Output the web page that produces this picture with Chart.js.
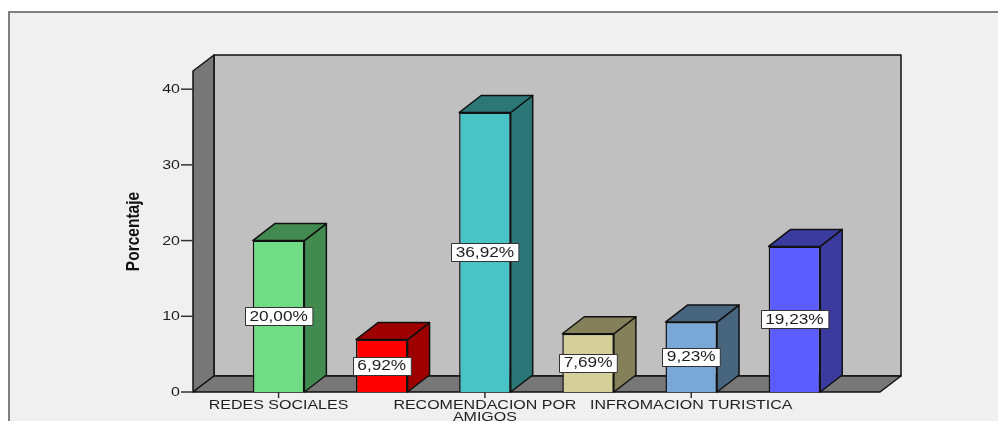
<!DOCTYPE html>
<html>
<head>
<meta charset="utf-8">
<script src="https://cdn.jsdelivr.net/npm/chart.js@4/dist/chart.umd.min.js"></script>
<style>
  html, body { margin: 0; padding: 0; background: #fff; }
  canvas { display: block; }
</style>
</head>
<body>
<canvas id="grafico" width="998" height="421"></canvas>
<script>
// categorías (las que no llevan rótulo quedan vacías en el eje)
const categorias = [['REDES SOCIALES'], [], ['RECOMENDACION POR', 'AMIGOS'], [], ['INFROMACION TURISTICA'], []];
const porcentajes = [20.00, 6.92, 36.92, 7.69, 9.23, 19.23];
const marcasY = [0, 10, 20, 30, 40];
const coloresFrente = ['#70dc86', '#ff0000', '#48c3c6', '#d5d09a', '#7aa8d6', '#5c5cff'];
const coloresLado = ['#428b50', '#9e0000', '#2b7677', '#848059', '#48657f', '#3a3a9f'];

const FUENTE = '"Liberation Sans", Arial, sans-serif';
const ESTIRA = 1.23;           // el texto del gráfico va algo ensanchado
const PARED = { dx: 21, dy: -16 };
const BARRA = { dx: 22, dy: -17 };
const MARGEN = 34;             // espacio entre la primera/última barra y las paredes

function texto(ctx, str, x, y, align, font, sx) {
    ctx.save();
    ctx.translate(x, y);
    ctx.scale(sx || ESTIRA, 1);
    ctx.font = font;
    ctx.textAlign = align;
    ctx.textBaseline = 'middle';
    ctx.fillStyle = '#1e1e1e';
    ctx.fillText(str, 0, 0);
    ctx.restore();
}

function poligono(ctx, pts, fill) {
    ctx.beginPath();
    ctx.moveTo(pts[0][0], pts[0][1]);
    for (let i = 1; i < pts.length; i++) ctx.lineTo(pts[i][0], pts[i][1]);
    ctx.closePath();
    ctx.fillStyle = fill;
    ctx.fill();
    ctx.stroke();
}

const caja3d = {
    id: 'caja3d',
    beforeDraw(chart) {
        const ctx = chart.ctx;
        ctx.save();
        ctx.fillStyle = '#ffffff';
        ctx.fillRect(0, 0, chart.width, chart.height);
        ctx.fillStyle = '#f0f0f0';
        ctx.fillRect(9, 13, chart.width, chart.height);
        ctx.strokeStyle = '#808080';
        ctx.lineWidth = 2;
        ctx.beginPath();
        ctx.moveTo(9, chart.height + 5);
        ctx.lineTo(9, 12);
        ctx.lineTo(chart.width + 5, 12);
        ctx.stroke();
        ctx.restore();
    },
    beforeDatasetsDraw(chart) {
        const ctx = chart.ctx;
        const ys = chart.scales.y, xs = chart.scales.x;
        const L = chart.chartArea.left - MARGEN, R = chart.chartArea.right + MARGEN;
        const T = ys.getPixelForValue(ys.max), B = ys.getPixelForValue(0);
        const { dx, dy } = PARED;
        ctx.save();
        ctx.strokeStyle = '#111';
        ctx.lineWidth = 1.5;
        ctx.lineJoin = 'round';
        // pared del fondo, pared izquierda y suelo
        poligono(ctx, [[L + dx, T + dy], [R + dx, T + dy], [R + dx, B + dy], [L + dx, B + dy]], '#c0c0c0');
        poligono(ctx, [[L, T], [L + dx, T + dy], [L + dx, B + dy], [L, B]], '#777777');
        poligono(ctx, [[L, B], [L + dx, B + dy], [R + dx, B + dy], [R, B]], '#777777');

        // eje Y: marcas y números
        ctx.strokeStyle = '#333';
        ctx.lineWidth = 1.5;
        marcasY.forEach(v => {
            const py = ys.getPixelForValue(v);
            ctx.beginPath();
            ctx.moveTo(L - 12, py);
            ctx.lineTo(L, py);
            ctx.stroke();
            texto(ctx, String(v), L - 13, py + 0.5, 'right', '13px ' + FUENTE);
        });

        // título del eje Y
        ctx.save();
        ctx.translate(134, (T + B) / 2);
        ctx.scale(ESTIRA, 1);
        ctx.rotate(-Math.PI / 2);
        ctx.font = 'bold 15.5px ' + FUENTE;
        ctx.textAlign = 'center';
        ctx.textBaseline = 'middle';
        ctx.fillStyle = '#111';
        ctx.fillText('Porcentaje', 0, 0);
        ctx.restore();

        // eje X: marcas y rótulos
        categorias.forEach((lineas, i) => {
            if (!lineas.length) return;
            const px = xs.getPixelForValue(i);
            ctx.beginPath();
            ctx.moveTo(px, B);
            ctx.lineTo(px, B + 6);
            ctx.stroke();
            lineas.forEach((ln, k) => texto(ctx, ln, px, B + 13.5 + k * 11.5, 'center', '13px ' + FUENTE));
        });
        ctx.restore();
    },
    afterDatasetsDraw(chart) {
        const ctx = chart.ctx;
        const ys = chart.scales.y;
        const { dx, dy } = BARRA;
        ctx.save();
        ctx.strokeStyle = '#111';
        ctx.lineWidth = 1.5;
        ctx.lineJoin = 'round';
        chart.getDatasetMeta(0).data.forEach((bar, i) => {
            const { x, y, base, width } = bar.getProps(['x', 'y', 'base', 'width'], true);
            const x0 = x - width / 2, x1 = x + width / 2;
            poligono(ctx, [[x1, y], [x1 + dx, y + dy], [x1 + dx, base + dy], [x1, base]], coloresLado[i]);
            poligono(ctx, [[x0, y], [x0 + dx, y + dy], [x1 + dx, y + dy], [x1, y]], coloresLado[i]);
        });

        // etiquetas con el porcentaje a media altura de cada barra
        ctx.lineWidth = 1;
        ctx.font = '14px ' + FUENTE;
        chart.getDatasetMeta(0).data.forEach((bar, i) => {
            const v = porcentajes[i];
            const str = v.toFixed(2).replace('.', ',') + '%';
            const w = ctx.measureText(str).width * ESTIRA + 9;
            const cy = ys.getPixelForValue(v / 2);
            const bx = Math.round(bar.x - w / 2) + 0.5, by = Math.round(cy - 9) + 0.5;
            ctx.fillStyle = '#ffffff';
            ctx.strokeStyle = '#333';
            ctx.fillRect(bx, by, w, 18);
            ctx.strokeRect(bx, by, w, 18);
            texto(ctx, str, bar.x, cy + 0.5, 'center', '14px ' + FUENTE);
        });
        ctx.restore();
    }
};

new Chart(document.getElementById('grafico'), {
    type: 'bar',
    data: {
        labels: categorias,
        datasets: [{
            data: porcentajes,
            backgroundColor: coloresFrente,
            borderColor: '#111',
            borderWidth: 1.5,
            barPercentage: 0.5,
            categoryPercentage: 1
        }]
    },
    options: {
        responsive: false,
        animation: false,
        layout: { padding: { left: 227, right: 152, top: 71, bottom: 29 } },
        plugins: { legend: { display: false }, tooltip: { enabled: false } },
        scales: {
            x: { display: false, offset: true },
            y: { display: false, min: 0, max: 42.4 }
        }
    },
    plugins: [caja3d]
});
</script>
</body>
</html>
